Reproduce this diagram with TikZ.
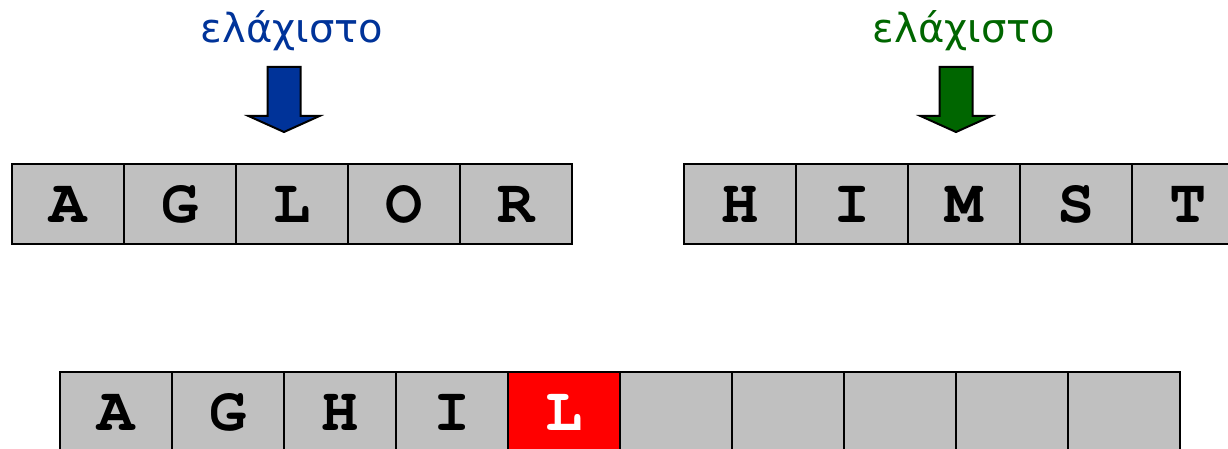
\documentclass[tikz,border=0pt]{standalone}
\usepackage{fontspec}
\newfontfamily\monof{TeX Gyre Cursor}
\newfontfamily\greekf{DejaVu Sans}
\usetikzlibrary{positioning}
\definecolor{cellg}{HTML}{C0C0C0}
\definecolor{minblue}{HTML}{003399}
\definecolor{mingreen}{HTML}{006600}
\definecolor{hot}{HTML}{FF0000}
\newcommand{\LetterF}{\fontsize{62}{64}\selectfont\monof\bfseries}
\newcommand{\LabelF}{\fontsize{40}{44}\selectfont\greekf}
\newcommand{\minarrow}[2]{%
  \draw[downarrow, fill=#2] (#1-16.5,381) -- (#1+16.5,381) -- (#1+16.5,332)
    -- (#1+35.5,332) -- (#1,316) -- (#1-35.5,332) -- (#1-16.5,332) -- cycle;
}
\tikzset{
  cell/.style={draw=black, line width=2pt, fill=cellg, minimum width=112pt,
    minimum height=80pt, inner sep=0pt, font=\LetterF, text=black},
  downarrow/.style={draw=black, line width=2pt, line join=miter},
  minlabel/.style={anchor=base, font=\LabelF}
}
\begin{document}
\begin{tikzpicture}[x=1pt,y=1pt]
\useasboundingbox (0,0) rectangle (1228,448);
\clip (0,0) rectangle (1228,448);
% left run
\foreach \ch [count=\i] in {A,G,L,O,R}
  \node[cell] (left\i) at (12+112*\i-56,244) {\ch};
% right run
\foreach \ch [count=\i] in {H,I,M,S,T}
  \node[cell] (right\i) at (684+112*\i-56,244) {\ch};
% merged output
\foreach \ch [count=\i] in {A,G,H,I,,,,,,}
  \node[cell] (out\i) at (60+112*\i-56,36) {\ch};
\node[cell, fill=hot, text=white] (out5) at (60+112*5-56,36) {L};
% smallest markers
\node[minlabel, text=minblue] (minleft) at (292,405) {ελάχιστο};
\node[minlabel, text=mingreen] (minright) at (964,405) {ελάχιστο};
\minarrow{284}{minblue}
\minarrow{956}{mingreen}
\end{tikzpicture}
\end{document}
